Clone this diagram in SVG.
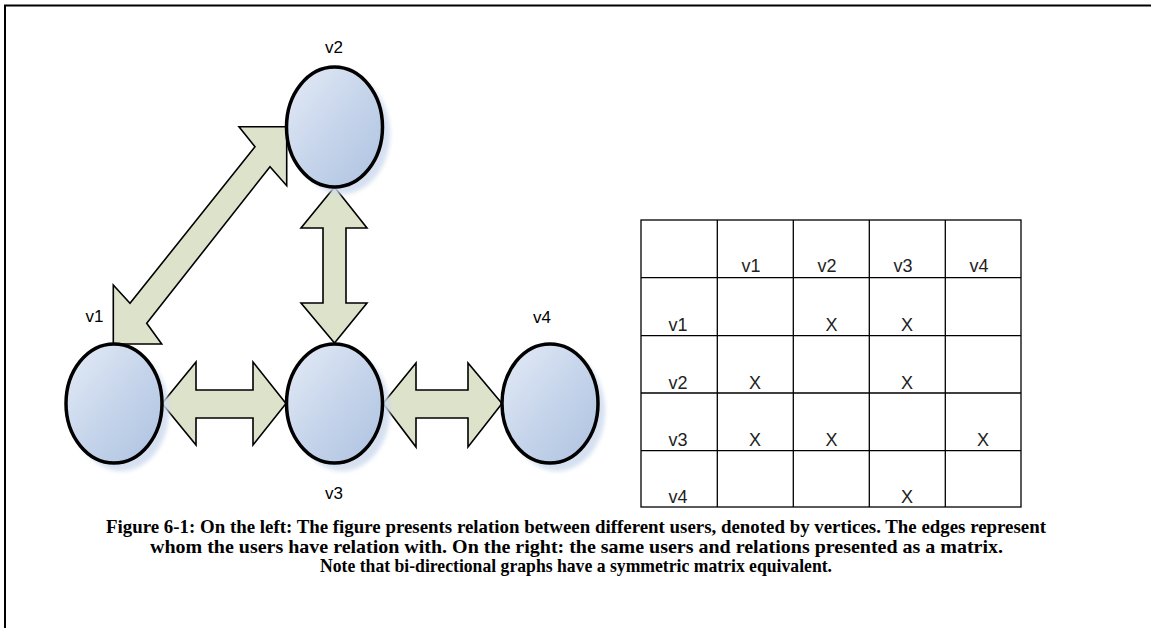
<svg xmlns="http://www.w3.org/2000/svg" width="1151" height="628" viewBox="0 0 1151 628">
  <style>
    .frame { fill: none; stroke: #000; stroke-width: 2; }
    .vertex { fill: url(#vgrad); stroke: #000; stroke-width: 3.5; }
    .shadow { fill: #cfdbee; opacity: 0.85; filter: url(#soft); }
    .edge { fill: #dde2cb; stroke: #000; stroke-width: 1.6; stroke-linejoin: miter; }
    .vlabel { font-family: "Liberation Sans", Arial, sans-serif; font-size: 17px; fill: #000; text-anchor: middle; }
    .grid { fill: none; stroke: #000; stroke-width: 1.3; }
    .cell { font-family: "Liberation Sans", Arial, sans-serif; font-size: 18px; fill: #222; text-anchor: middle; }
    .caption { font-family: "Liberation Serif", "Times New Roman", serif; font-weight: bold; font-size: 19px; fill: #000; }
  </style>
  <defs>
    <linearGradient id="vgrad" x1="0" y1="0" x2="1" y2="1">
      <stop offset="0" stop-color="#e4ebf6"/>
      <stop offset="0.55" stop-color="#c4d3ea"/>
      <stop offset="1" stop-color="#adc2e0"/>
    </linearGradient>
    <filter id="soft" x="-20%" y="-20%" width="140%" height="140%">
      <feGaussianBlur stdDeviation="2"/>
    </filter>
  </defs>

  <rect width="1151" height="628" fill="#fff"/>
  <!-- outer frame: runs off the right and bottom edges -->
  <path class="frame" d="M5,640 V5.5 H1160"/>

  <!-- connectors -->
  <g id="connectors">
    <!-- v1 <-> v2 -->
    <polygon class="edge" points="286.7,126.7 239,126.7 255,146.7 130,303.3 113.3,285 113.3,344 161.7,344 146.7,323.3 270,166.7 286.7,185.7"/>
    <!-- v2 <-> v3 -->
    <polygon class="edge" points="334.5,187 367,228 346,228 346,303 367,303 334.5,343 301,303 323,303 323,228 301,228"/>
    <!-- v1 <-> v3 -->
    <polygon class="edge" points="162,403.5 196,362 196,390 253,390 253,362 286,403.5 253,445 253,418 196,418 196,445"/>
    <!-- v3 <-> v4 -->
    <polygon class="edge" points="383,403.5 416,363 416,390 468,390 468,363 502,403.5 468,447 468,418 416,418 416,447"/>
  </g>

  <!-- vertices -->
  <g id="v2">
    <ellipse class="shadow" cx="342" cy="134" rx="48" ry="60"/>
    <ellipse class="vertex" cx="334.5" cy="127" rx="48" ry="60"/>
    <text class="vlabel" x="334" y="53">v2</text>
  </g>
  <g id="v1">
    <ellipse class="shadow" cx="121" cy="411" rx="48" ry="60"/>
    <ellipse class="vertex" cx="114" cy="403.5" rx="48" ry="59.5"/>
    <text class="vlabel" x="94.5" y="322">v1</text>
  </g>
  <g id="v3">
    <ellipse class="shadow" cx="342" cy="411" rx="48" ry="60"/>
    <ellipse class="vertex" cx="334.5" cy="403.5" rx="48" ry="59.5"/>
    <text class="vlabel" x="334" y="499">v3</text>
  </g>
  <g id="v4">
    <ellipse class="shadow" cx="557" cy="411" rx="48" ry="60"/>
    <ellipse class="vertex" cx="550" cy="403.5" rx="48" ry="59.5"/>
    <text class="vlabel" x="542" y="323">v4</text>
  </g>

  <!-- adjacency matrix -->
  <g id="matrix">
    <rect class="grid" x="641" y="220" width="380" height="287"/>
    <path class="grid" d="M717.3,220 V507 M793.3,220 V507 M869.3,220 V507 M945.3,220 V507
                          M641,277.7 H1021 M641,335.7 H1021 M641,393 H1021 M641,450.7 H1021"/>
    <!-- header row -->
    <text class="cell" x="751" y="272">v1</text>
    <text class="cell" x="827" y="272">v2</text>
    <text class="cell" x="903" y="272">v3</text>
    <text class="cell" x="979" y="272">v4</text>
    <!-- row labels -->
    <text class="cell" x="678" y="331">v1</text>
    <text class="cell" x="678" y="388.5">v2</text>
    <text class="cell" x="678" y="446">v3</text>
    <text class="cell" x="678" y="503">v4</text>
    <!-- relations -->
    <text class="cell" x="831.5" y="331">X</text>
    <text class="cell" x="907" y="331">X</text>
    <text class="cell" x="755" y="388.5">X</text>
    <text class="cell" x="907" y="388.5">X</text>
    <text class="cell" x="755" y="446">X</text>
    <text class="cell" x="831.5" y="446">X</text>
    <text class="cell" x="983" y="446">X</text>
    <text class="cell" x="907" y="503">X</text>
  </g>

  <!-- caption -->
  <g id="caption">
    <text class="caption" x="106" y="533" textLength="940" lengthAdjust="spacingAndGlyphs">Figure 6-1: On the left: The figure presents relation between different users, denoted by vertices. The edges represent</text>
    <text class="caption" x="150" y="552.5" textLength="853" lengthAdjust="spacingAndGlyphs">whom the users have relation with. On the right: the same users and relations presented as a matrix.</text>
    <text class="caption" x="320" y="572" textLength="512" lengthAdjust="spacingAndGlyphs">Note that bi-directional graphs have a symmetric matrix equivalent.</text>
  </g>
</svg>
